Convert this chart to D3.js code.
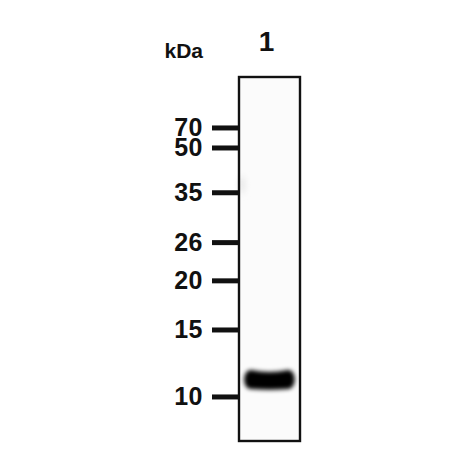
<!DOCTYPE html>
<html>
<head>
<meta charset="utf-8">
<script src="https://cdn.jsdelivr.net/npm/d3@7"></script>
<style>
  html, body { margin: 0; padding: 0; background: #fff; }
  svg { display: block; }
  text { font-family: "Liberation Sans", Arial, sans-serif; font-weight: bold; fill: #111; }
</style>
</head>
<body>
<div id="container"></div>
<script>
// Marker ladder (kDa) and how far each ran down the lane (0 = top, 1 = bottom)
var markerKDa = [70, 50, 35, 26, 20, 15, 10];
var markerMigration = [0.140, 0.195, 0.318, 0.455, 0.560, 0.695, 0.879];

// Lanes and detected bands
var laneLabels = ["1"];
var bandLane = ["1"];
var bandMigration = [0.831];
var bandIntensity = [1.0];

var W = 450, H = 450;
var margin = {top: 77, bottom: 9, left: 239, right: 150};

var svg = d3.select('#container').append('svg')
    .attr('width', W)
    .attr('height', H);

var y = d3.scaleLinear().domain([0, 1]).range([margin.top, H - margin.bottom]);
var x = d3.scaleBand().domain(laneLabels).range([margin.left, W - margin.right]).padding(0);

// Blur filters
var defs = svg.append('defs');
var blur = defs.append('filter').attr('id', 'blur')
    .attr('x', '-30%').attr('y', '-80%').attr('width', '160%').attr('height', '260%');
blur.append('feGaussianBlur').attr('stdDeviation', 2.2);
var soft = defs.append('filter').attr('id', 'soft')
    .attr('x', '-100%').attr('y', '-100%').attr('width', '300%').attr('height', '300%');
soft.append('feGaussianBlur').attr('stdDeviation', 3);

// Lane background
svg.selectAll('rect.lane')
  .data(laneLabels)
  .enter().append('rect')
    .attr('class', 'lane')
    .attr('x', function(d) { return x(d); })
    .attr('y', y(0))
    .attr('width', x.bandwidth())
    .attr('height', y(1) - y(0))
    .style('fill', '#fbfbfb');

// Faint smudge on the left side of the lane near 35 kDa
svg.append('ellipse')
    .attr('cx', x("1") + 3)
    .attr('cy', y(markerMigration[2]) - 8)
    .attr('rx', 3)
    .attr('ry', 9)
    .style('fill', '#e6e6e6')
    .attr('filter', 'url(#soft)');

// Bands
var bands = svg.selectAll('g.band')
  .data(bandMigration.map(function(m, i) { return {lane: bandLane[i], m: m, v: bandIntensity[i]}; }))
  .enter().append('g')
    .attr('class', 'band')
    .attr('filter', 'url(#blur)');

bands.append('path')
    .attr('d', function(d) {
      var x0 = x(d.lane) + 5, x1 = x(d.lane) + x.bandwidth() - 5;
      var cy = y(d.m), h = 9.5;
      var p = d3.path();
      p.moveTo(x0 + 7, cy - h);
      p.quadraticCurveTo((x0 + x1) / 2, cy - h + 4, x1 - 7, cy - h);
      p.bezierCurveTo(x1 + 2, cy - h, x1 + 2, cy + h, x1 - 7, cy + h);
      p.quadraticCurveTo((x0 + x1) / 2, cy + h + 1.5, x0 + 7, cy + h);
      p.bezierCurveTo(x0 - 2, cy + h, x0 - 2, cy - h, x0 + 7, cy - h);
      p.closePath();
      return p.toString();
    })
    .style('fill', function(d) { return d3.interpolateGreys(d.v); });

// Lane outline
svg.selectAll('rect.outline')
  .data(laneLabels)
  .enter().append('rect')
    .attr('class', 'outline')
    .attr('x', function(d) { return x(d); })
    .attr('y', y(0))
    .attr('width', x.bandwidth())
    .attr('height', y(1) - y(0))
    .style('fill', 'none')
    .style('stroke', '#111')
    .style('stroke-width', 2.4);

// Marker ticks
svg.selectAll('line.tick')
  .data(markerMigration)
  .enter().append('line')
    .attr('class', 'tick')
    .attr('x1', margin.left - 27)
    .attr('x2', margin.left)
    .attr('y1', function(d) { return y(d); })
    .attr('y2', function(d) { return y(d); })
    .style('stroke', '#111')
    .style('stroke-width', 5);

// Marker labels
svg.selectAll('text.mw')
  .data(markerKDa)
  .enter().append('text')
    .attr('class', 'mw')
    .attr('x', margin.left - 36)
    .attr('y', function(d, i) { return y(markerMigration[i]) + 8.5; })
    .attr('text-anchor', 'end')
    .style('font-size', '25px')
    .style('letter-spacing', '0.5px')
    .text(function(d) { return d; });

// Unit label
svg.append('text')
    .attr('x', 203)
    .attr('y', 58)
    .attr('text-anchor', 'end')
    .style('font-size', '21px')
    .text('kDa');

// Lane labels
svg.selectAll('text.lane-label')
  .data(laneLabels)
  .enter().append('text')
    .attr('class', 'lane-label')
    .attr('x', function(d) { return x(d) + x.bandwidth() / 2 - 3; })
    .attr('y', 51)
    .attr('text-anchor', 'middle')
    .style('font-size', '28px')
    .text(function(d) { return d; });
</script>
</body>
</html>
